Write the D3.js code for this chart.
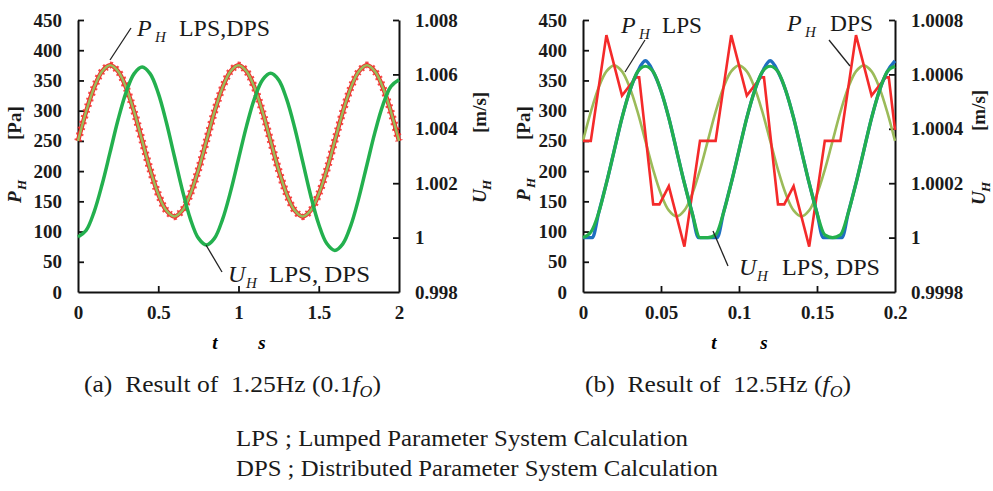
<!DOCTYPE html>
<html>
<head>
<meta charset="utf-8">
<script src="https://cdn.jsdelivr.net/npm/d3@7"></script>
<style>
  body { margin: 0; background: #fff; }
  svg { display: block; font-family: "Liberation Serif", "Times New Roman", Times, serif; }
</style>
</head>
<body>
<svg id="chart" width="993" height="491"></svg>
<script>
// ---------- panel (a) : 1.25 Hz ----------
var timeA = [0,0.05,0.1,0.15,0.2,0.25,0.3,0.35,0.4,0.45,0.5,0.55,0.6,0.65,0.7,0.75,0.8,0.85,0.9,0.95,1,
             1.05,1.1,1.15,1.2,1.25,1.3,1.35,1.4,1.45,1.5,1.55,1.6,1.65,1.7,1.75,1.8,1.85,1.9,1.95,2];
// P_H, LPS and DPS lie on top of each other [Pa]
var pressA = [250,298,338,365,375,365,338,298,250,202,162,135,125,135,162,202,
              250,298,338,365,375,365,338,298,250,202,162,135,125,135,162,202,
              250,298,338,365,375,365,338,298,250];
// U_H, LPS and DPS [m/s]
var velA = [1.00002,1.00026,1.00094,1.00195,1.00314,1.00434,1.00535,1.00603,1.00627,
            1.00602,1.00531,1.00425,1.00300,1.00175,1.00069,0.99998,0.99973,
            0.99997,1.00066,1.00168,1.00289,1.00410,1.00512,1.00580,1.00604,
            1.00580,1.00509,1.00404,1.00279,1.00154,1.00049,0.99978,0.99953,
            0.99977,1.00045,1.00147,1.00267,1.00387,1.00488,1.00556,1.00580];

// ---------- panel (b) : 12.5 Hz ----------
var timeB = [0,0.005,0.01,0.015,0.02,0.025,0.03,0.035,0.04,0.045,0.05,0.055,0.06,0.065,0.07,0.075,
             0.08,0.085,0.09,0.095,0.1,0.105,0.11,0.115,0.12,0.125,0.13,0.135,0.14,0.145,0.15,0.155,
             0.16,0.165,0.17,0.175,0.18,0.185,0.19,0.195,0.2];
var pressDpsB = [250,298,338,365,375,365,338,298,250,202,162,135,125,135,162,202,
                 250,298,338,365,375,365,338,298,250,202,162,135,125,135,162,202,
                 250,298,338,365,375,365,338,298,250];
var velDpsB = [1.00000,1.00002,1.00009,1.00020,1.00032,1.00044,1.00054,1.00061,1.00063,
               1.00061,1.00054,1.00044,1.00032,1.00020,1.00009,1.00000,
               1.00000,1.00001,1.00009,1.00020,1.00032,1.00044,1.00054,1.00061,1.00063,
               1.00061,1.00054,1.00044,1.00032,1.00020,1.00009,1.00001,
               1.00000,1.00001,1.00009,1.00020,1.00032,1.00044,1.00054,1.00061,1.00063];
var timePressLpsB = [0,0.005,0.015,0.025,0.034,0.036,0.045,0.049,0.055,0.065,0.075,
                     0.085,0.095,0.105,0.114,0.116,0.125,0.129,0.135,0.145,0.155,
                     0.165,0.175,0.185,0.194,0.196,0.2];
var pressLpsB = [250,250,425,325,355,355,145,145,175,75,250,
                 250,425,325,355,355,145,145,175,75,250,
                 250,425,325,355,355,268];
var timeVelLpsB = [0,0.006,0.01,0.015,0.02,0.025,0.03,0.035,0.04,0.045,0.05,0.055,0.06,0.065,0.07,0.074,
                   0.086,0.09,0.095,0.1,0.105,0.11,0.115,0.12,0.125,0.13,0.135,0.14,0.145,0.15,0.154,
                   0.166,0.17,0.175,0.18,0.185,0.19,0.195,0.2];
var velLpsB = [1.0,1.0,1.00009,1.0002,1.00032,1.00044,1.00054,1.00061,1.00065,1.00061,1.00054,1.00044,1.00032,1.0002,1.00009,1.0,
               1.0,1.00009,1.0002,1.00032,1.00044,1.00054,1.00061,1.00065,1.00061,1.00054,1.00044,1.00032,1.0002,1.00009,1.0,
               1.0,1.00009,1.0002,1.00032,1.00044,1.00054,1.00061,1.00065];

// ---------- ticks ----------
var pTicks = [0,50,100,150,200,250,300,350,400,450];
var uTicksA = [0.998,1,1.002,1.004,1.006,1.008];
var uLabelsA = ["0.998","1","1.002","1.004","1.006","1.008"];
var uTicksB = [0.9998,1,1.0002,1.0004,1.0006,1.0008];
var uLabelsB = ["0.9998","1","1.0002","1.0004","1.0006","1.0008"];
var tTicksA = [0,0.5,1,1.5,2];
var tLabelsA = ["0","0.5","1","1.5","2"];
var tTicksB = [0,0.05,0.1,0.15,0.2];
var tLabelsB = ["0","0.05","0.1","0.15","0.2"];

var RED = "#f42a2a", OLIVE = "#9bbb59", GREEN = "#23b04e", BLUE = "#1e6fc0";
var SERIF = "'Liberation Serif', 'Times New Roman', Times, serif";

var svg = d3.select("#chart");
var plotTop = 20, plotBottom = 292;

function zip(t, v) { return t.map(function(d, i) { return [d, v[i]]; }); }

// draws frame, axes and ticks for one panel, returns the scales
function panel(left, right, tDom, uDom, tTicks, tLabels, uTicks, uLabels) {
  var x = d3.scaleLinear().domain(tDom).range([left, right]);
  var y = d3.scaleLinear().domain([0, 450]).range([plotBottom, plotTop]);
  var y2 = d3.scaleLinear().domain(uDom).range([plotBottom, plotTop]);

  var gl = svg.append("g").attr("transform", "translate(" + left + ",0)")
    .call(d3.axisLeft(y).tickValues(pTicks).tickSizeInner(-6).tickSizeOuter(0).tickPadding(16));
  var gr = svg.append("g").attr("transform", "translate(" + right + ",0)")
    .call(d3.axisRight(y2).tickValues(uTicks).tickFormat(function(d, i) { return uLabels[i]; })
      .tickSizeInner(-6).tickSizeOuter(0).tickPadding(16));
  var gb = svg.append("g").attr("transform", "translate(0," + plotBottom + ")")
    .call(d3.axisBottom(x).tickValues(tTicks).tickFormat(function(d, i) { return tLabels[i]; })
      .tickSizeInner(-6).tickSizeOuter(0).tickPadding(14));

  [gl, gr, gb].forEach(function(g) {
    g.attr("font-family", null).attr("font-size", null);
    g.select(".domain").attr("stroke", "#111").attr("stroke-width", 2);
    g.selectAll(".tick line").attr("stroke", "#111").attr("stroke-width", 1.8);
    g.selectAll(".tick text").attr("fill", "#1a1a1a")
      .style("font-family", SERIF).style("font-size", "19px").style("font-weight", "bold");
  });
  gl.selectAll(".tick").filter(function(d) { return d === 0; }).select("line").remove();
  gr.selectAll(".tick").filter(function(d, i) { return i === 0; }).select("line").remove();
  gb.selectAll(".tick").filter(function(d, i) { return i === 0 || i === tTicks.length - 1; }).select("line").remove();

  return { x: x, y: y, y2: y2 };
}

// rotated axis title: symbol with subscript H, then the unit
function vTitle(bx, yStart, sym, unitStart, unit) {
  var g = svg.append("g").attr("transform", "translate(" + bx + ",0) rotate(-90)")
    .style("font-size", "19px").style("font-weight", "bold").attr("fill", "#1a1a1a");
  g.append("text").attr("x", -yStart).attr("y", 0).style("font-style", "italic").text(sym);
  g.append("text").attr("x", -yStart + 13).attr("y", 5).style("font-style", "italic").style("font-size", "13px").text("H");
  g.append("text").attr("x", -unitStart).attr("y", 0).text(unit);
}

function curveLabel(px, py, sym, tx, txt, w) {
  var g = svg.append("g").attr("fill", "#1a1a1a");
  g.append("text").attr("x", px).attr("y", py).style("font-size", "24px").style("font-style", "italic").text(sym);
  g.append("text").attr("x", px + 18).attr("y", py + 6).style("font-size", "15px").style("font-style", "italic").text("H");
  g.append("text").attr("x", tx).attr("y", py).style("font-size", "23px")
    .attr("textLength", w).attr("lengthAdjust", "spacingAndGlyphs").text(txt);
}

function leader(x1, y1, x2, y2) {
  svg.append("line").attr("x1", x1).attr("y1", y1).attr("x2", x2).attr("y2", y2)
    .attr("stroke", "#222").attr("stroke-width", 1.3);
}

// ================= panel (a) =================
var a = panel(78, 399, [0, 2], [0.998, 1.008], tTicksA, tLabelsA, uTicksA, uLabelsA);
var lineAP = d3.line().x(function(d) { return a.x(d[0]); }).y(function(d) { return a.y(d[1]); }).curve(d3.curveCatmullRom);
var lineAU = d3.line().x(function(d) { return a.x(d[0]); }).y(function(d) { return a.y2(d[1]); }).curve(d3.curveCatmullRom);

svg.append("path").datum(zip(timeA, pressA)).attr("d", lineAP)
  .attr("fill", "none").attr("stroke", RED).attr("stroke-width", 4.5);
svg.append("path").datum(zip(timeA, pressA)).attr("d", lineAP)
  .attr("fill", "none").attr("stroke", RED).attr("stroke-width", 7.5).attr("stroke-dasharray", "2,4").attr("opacity", 0.85);
svg.append("path").datum(zip(timeA, pressA)).attr("d", lineAP)
  .attr("fill", "none").attr("stroke", OLIVE).attr("stroke-width", 2.5);
svg.append("path").datum(zip(timeA, velA)).attr("d", lineAU)
  .attr("fill", "none").attr("stroke", GREEN).attr("stroke-width", 3.5);

vTitle(21, 203, "P", 140, "[Pa]");
vTitle(486, 203, "U", 133, "[m/s]");

curveLabel(137, 36, "P", 179, "LPS,DPS", 91);
leader(131, 28, 110, 60);
curveLabel(228, 282, "U", 269, "LPS, DPS", 101);
leader(206, 245, 222, 272);

// ================= panel (b) =================
var b = panel(583, 895, [0, 0.2], [0.9998, 1.0008], tTicksB, tLabelsB, uTicksB, uLabelsB);
var lineBP = d3.line().x(function(d) { return b.x(d[0]); }).y(function(d) { return b.y(d[1]); });
var lineBU = d3.line().x(function(d) { return b.x(d[0]); }).y(function(d) { return b.y2(d[1]); });

svg.append("path").datum(zip(timeB, pressDpsB)).attr("d", lineBP.curve(d3.curveCatmullRom))
  .attr("fill", "none").attr("stroke", OLIVE).attr("stroke-width", 2.6);
svg.append("path").datum(zip(timePressLpsB, pressLpsB)).attr("d", lineBP.curve(d3.curveLinear))
  .attr("fill", "none").attr("stroke", RED).attr("stroke-width", 2.6);
svg.append("path").datum(zip(timeVelLpsB, velLpsB)).attr("d", lineBU.curve(d3.curveMonotoneX))
  .attr("fill", "none").attr("stroke", BLUE).attr("stroke-width", 3.4);
svg.append("path").datum(zip(timeB, velDpsB)).attr("d", lineBU.curve(d3.curveMonotoneX))
  .attr("fill", "none").attr("stroke", GREEN).attr("stroke-width", 3.2);

vTitle(530, 201, "P", 140, "[Pa]");
vTitle(985, 205, "U", 131, "[m/s]");

curveLabel(621, 33, "P", 662, "LPS", 40);
leader(645, 40, 625, 72);
curveLabel(787, 31, "P", 830, "DPS", 43);
leader(829, 40, 850, 66);
curveLabel(739, 275, "U", 782, "LPS, DPS", 98);
leader(713, 231, 728, 266);

// ---------- x titles ----------
[[215, 262], [714, 764]].forEach(function(p) {
  svg.append("text").attr("x", p[0]).attr("y", 349).attr("text-anchor", "middle")
    .style("font-size", "19px").style("font-weight", "bold").style("font-style", "italic").text("t");
  svg.append("text").attr("x", p[1]).attr("y", 349).attr("text-anchor", "middle")
    .style("font-size", "19px").style("font-weight", "bold").style("font-style", "italic").text("s");
});

// ---------- captions ----------
function caption(x, y, w, parts) {
  var t = svg.append("text").attr("x", x).attr("y", y).attr("fill", "#1a1a1a").style("font-size", "23px")
    .attr("textLength", w).attr("lengthAdjust", "spacingAndGlyphs");
  parts.forEach(function(p) {
    var s = t.append("tspan").text(p[0]);
    if (p[1]) s.style("font-style", "italic");
    if (p[2]) s.attr("dy", p[2]).style("font-size", p[3]);
  });
}
caption(84, 392, 297, [["(a)\u00a0\u00a0Result of\u00a0\u00a01.25Hz (0.1"], ["f", true], ["O", true, 5, "16px"], [")", false, -5, "23px"]]);
caption(585, 392, 266, [["(b)\u00a0\u00a0Result of\u00a0\u00a012.5Hz ("], ["f", true], ["O", true, 5, "16px"], [")", false, -5, "23px"]]);
caption(236, 446, 452, [["LPS ; Lumped Parameter System Calculation"]]);
caption(236, 476, 482, [["DPS ; Distributed Parameter System Calculation"]]);
</script>
</body>
</html>
